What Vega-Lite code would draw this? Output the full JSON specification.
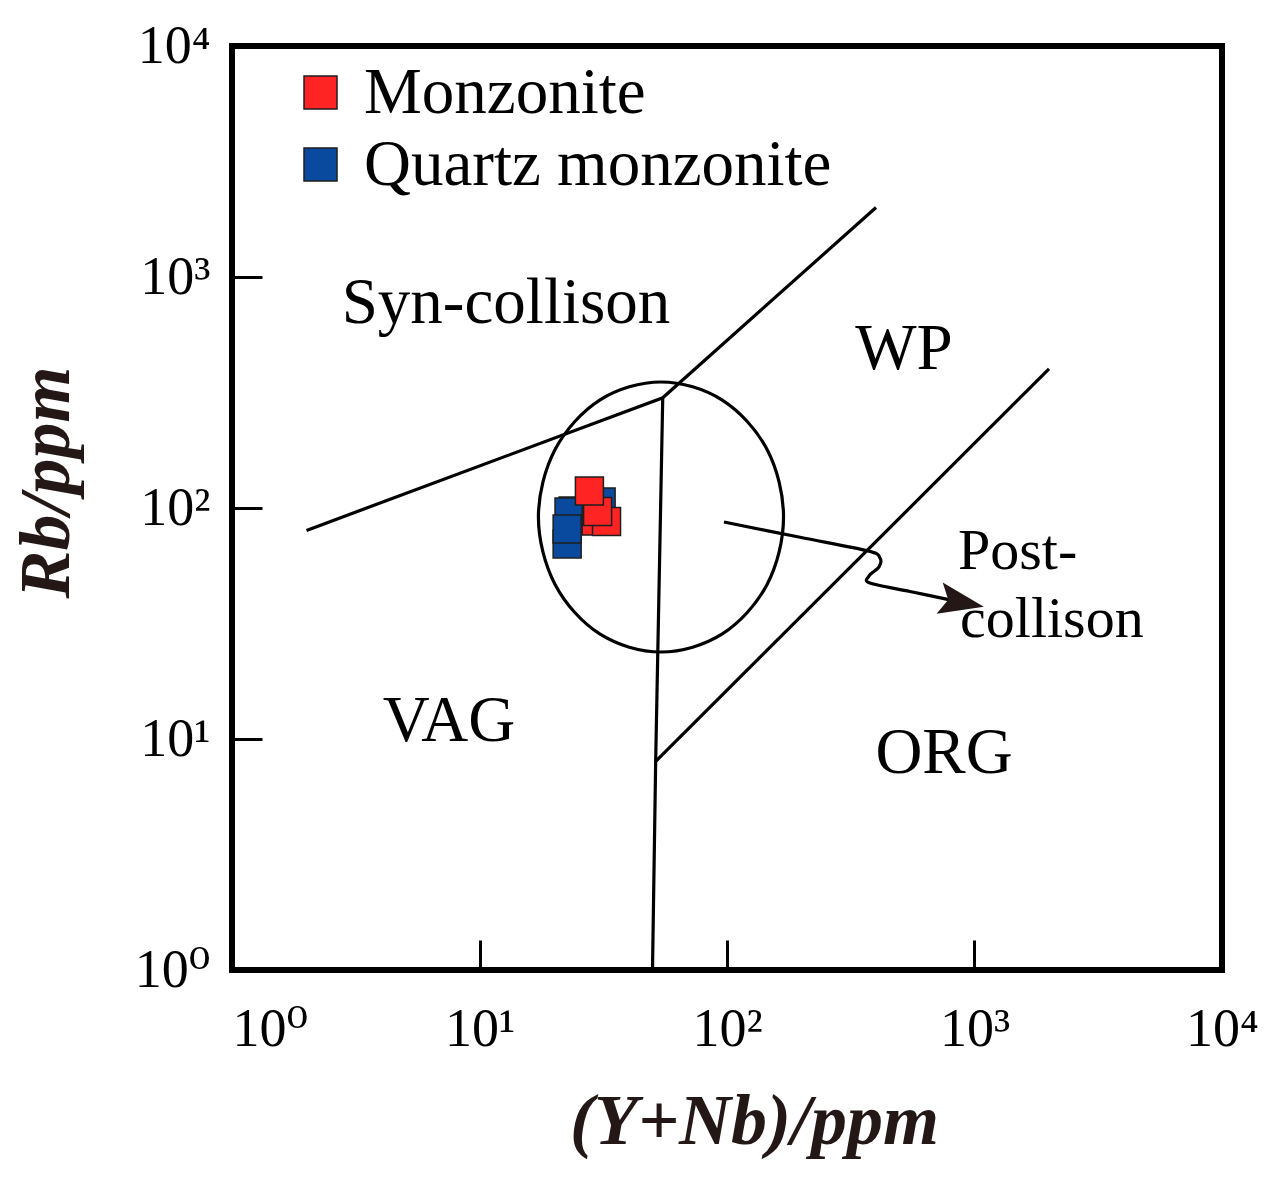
{
  "$schema": "https://vega.github.io/schema/vega-lite/v6.json",
  "width": 990,
  "height": 924,
  "autosize": {"type": "none"},
  "padding": {"left": 232, "top": 46, "right": 49, "bottom": 220},
  "background": "white",
  "config": {
    "view": {"stroke": "black", "strokeWidth": 6},
    "font": "Liberation Serif"
  },
  "datasets": {
    "samples": [
      {"rock": "Quartz monzonite", "x": 31.0, "y": 106.2},
      {"rock": "Quartz monzonite", "x": 23.9, "y": 97.0},
      {"rock": "Quartz monzonite", "x": 23.0, "y": 96.1},
      {"rock": "Quartz monzonite", "x": 22.6, "y": 69.9},
      {"rock": "Quartz monzonite", "x": 22.6, "y": 81.1},
      {"rock": "Monzonite", "x": 29.6, "y": 87.8},
      {"rock": "Monzonite", "x": 32.6, "y": 87.4},
      {"rock": "Monzonite", "x": 30.0, "y": 96.6},
      {"rock": "Monzonite", "x": 27.8, "y": 118.5}
    ],
    "bounds": [
      {"seg": "A", "ord": 0, "x": 2, "y": 80},
      {"seg": "A", "ord": 1, "x": 55, "y": 300},
      {"seg": "A", "ord": 2, "x": 400, "y": 2000},
      {"seg": "B", "ord": 0, "x": 55, "y": 300},
      {"seg": "B", "ord": 1, "x": 51.5, "y": 8},
      {"seg": "B", "ord": 2, "x": 50, "y": 1},
      {"seg": "C", "ord": 0, "x": 51.5, "y": 8},
      {"seg": "C", "ord": 1, "x": 2000, "y": 400}
    ],
    "ellipse": [
      {"ord": 0, "x": 169.2, "y": 91.4},
      {"ord": 1, "x": 145.2, "y": 179.1},
      {"ord": 2, "x": 95.7, "y": 293.2},
      {"ord": 3, "x": 54.1, "y": 351.2},
      {"ord": 4, "x": 30.6, "y": 293.2},
      {"ord": 5, "x": 20.2, "y": 179.1},
      {"ord": 6, "x": 17.3, "y": 91.4},
      {"ord": 7, "x": 20.2, "y": 46.7},
      {"ord": 8, "x": 30.6, "y": 28.5},
      {"ord": 9, "x": 54.1, "y": 23.8},
      {"ord": 10, "x": 95.7, "y": 28.5},
      {"ord": 11, "x": 145.2, "y": 46.7}
    ],
    "arrow": [
      {"ord": 0, "x": 97.2, "y": 87.0},
      {"ord": 1, "x": 197.2, "y": 74.7},
      {"ord": 2, "x": 371.3, "y": 65.2},
      {"ord": 3, "x": 415.1, "y": 60.7},
      {"ord": 4, "x": 411.3, "y": 55.6},
      {"ord": 5, "x": 374.8, "y": 50.8},
      {"ord": 6, "x": 378.3, "y": 47.3},
      {"ord": 7, "x": 548.9, "y": 43.5},
      {"ord": 8, "x": 796, "y": 40.0}
    ],
    "head": [
      {"x": 868, "y": 39.2}
    ],
    "regions": [
      {"label": "Syn-collison", "x": 12.8, "y": 632.2},
      {"label": "WP", "x": 519, "y": 399.7},
      {"label": "VAG", "x": 7.53, "y": 9.8},
      {"label": "ORG", "x": 753, "y": 7.13}
    ],
    "post": [
      {"label": "Post-", "x": 858, "y": 54.4},
      {"label": "collison", "x": 874, "y": 27.6}
    ]
  },
  "encoding": {
    "x": {
      "field": "x",
      "type": "quantitative",
      "scale": {"type": "log", "domain": [1, 10000], "nice": false},
      "axis": {
        "title": "(Y+Nb)/ppm",
        "values": [1, 10, 100, 1000, 10000],
        "labelExpr": "'10' + ['⁰','¹','²','³','⁴'][round(log(datum.value)/LN10)]",
        "grid": false,
        "domain": false,
        "tickSize": -30,
        "tickWidth": 3,
        "tickColor": "black",
        "labelFont": "Liberation Serif, DejaVu Serif",
        "labelFontSize": 54,
        "labelColor": "black",
        "labelPadding": 105,
        "labelBaseline": "alphabetic",
        "labelAlign": {"condition": {"test": "datum.value == 1", "value": "left"}, "value": "center"},
        "labelFlush": false,
        "labelOverlap": false,
        "labelBound": false,
        "titleFont": "Liberation Serif",
        "titleFontSize": 72,
        "titleFontWeight": "bold",
        "titleFontStyle": "italic",
        "titleColor": "#231815",
        "titleX": 522,
        "titleY": 173,
        "titleAlign": "center",
        "titleBaseline": "alphabetic"
      }
    },
    "y": {
      "field": "y",
      "type": "quantitative",
      "scale": {"type": "log", "domain": [1, 10000], "nice": false},
      "axis": {
        "title": "Rb/ppm",
        "values": [1, 10, 100, 1000, 10000],
        "labelExpr": "'10' + ['⁰','¹','²','³','⁴'][round(log(datum.value)/LN10)]",
        "grid": false,
        "domain": false,
        "tickSize": -30,
        "tickWidth": 3,
        "tickColor": "black",
        "labelFont": "Liberation Serif, DejaVu Serif",
        "labelFontSize": 54,
        "labelColor": "black",
        "labelPadding": 52,
        "labelBaseline": "middle",
        "labelAlign": "right",
        "labelFlush": false,
        "labelOverlap": false,
        "labelBound": false,
        "titleFont": "Liberation Serif",
        "titleFontSize": 72,
        "titleFontWeight": "bold",
        "titleFontStyle": "italic",
        "titleColor": "#231815",
        "titleX": -164,
        "titleY": 436,
        "titleAngle": 270,
        "titleAlign": "center",
        "titleBaseline": "alphabetic"
      }
    }
  },
  "layer": [
    {
      "data": {"name": "bounds"},
      "mark": {"type": "line", "color": "black", "strokeWidth": 3.2},
      "encoding": {
        "detail": {"field": "seg"},
        "order": {"field": "ord", "type": "quantitative"}
      }
    },
    {
      "data": {"name": "ellipse"},
      "mark": {"type": "line", "color": "black", "strokeWidth": 3.2, "interpolate": "cardinal-closed"},
      "encoding": {
        "order": {"field": "ord", "type": "quantitative"}
      }
    },
    {
      "data": {"name": "arrow"},
      "mark": {"type": "line", "color": "black", "strokeWidth": 3.2, "interpolate": "cardinal"},
      "encoding": {
        "order": {"field": "ord", "type": "quantitative"}
      }
    },
    {
      "data": {"name": "head"},
      "mark": {"type": "point", "filled": true, "shape": "M1,0 L-0.8,-0.64 L-0.45,0 L-0.8,0.64 Z", "size": 2500, "angle": 11, "color": "#231815", "opacity": 1}
    },
    {
      "data": {"name": "samples"},
      "mark": {"type": "point", "shape": "square", "filled": true, "size": 784, "stroke": "#1e1e1e", "strokeWidth": 1.5, "opacity": 1},
      "encoding": {
        "color": {
          "field": "rock",
          "type": "nominal",
          "scale": {"domain": ["Monzonite", "Quartz monzonite"], "range": ["#ff2424", "#0a4a9e"]},
          "legend": {
            "title": null,
            "orient": "none",
            "legendX": 56,
            "legendY": 14,
            "padding": 0,
            "symbolType": "square",
            "symbolSize": 1089,
            "symbolStrokeColor": "#1e1e1e",
            "symbolStrokeWidth": 1.5,
            "symbolOpacity": 1,
            "labelFont": "Liberation Serif",
            "labelFontSize": 65,
            "labelColor": "black",
            "labelOffset": 11,
            "labelLimit": 0,
            "rowPadding": 6
          }
        }
      }
    },
    {
      "data": {"name": "regions"},
      "mark": {"type": "text", "font": "Liberation Serif", "fontSize": 65, "align": "center", "baseline": "alphabetic", "color": "black"},
      "encoding": {"text": {"field": "label"}}
    },
    {
      "data": {"name": "post"},
      "mark": {"type": "text", "font": "Liberation Serif", "fontSize": 58, "align": "left", "baseline": "alphabetic", "color": "black"},
      "encoding": {"text": {"field": "label"}}
    }
  ]
}
